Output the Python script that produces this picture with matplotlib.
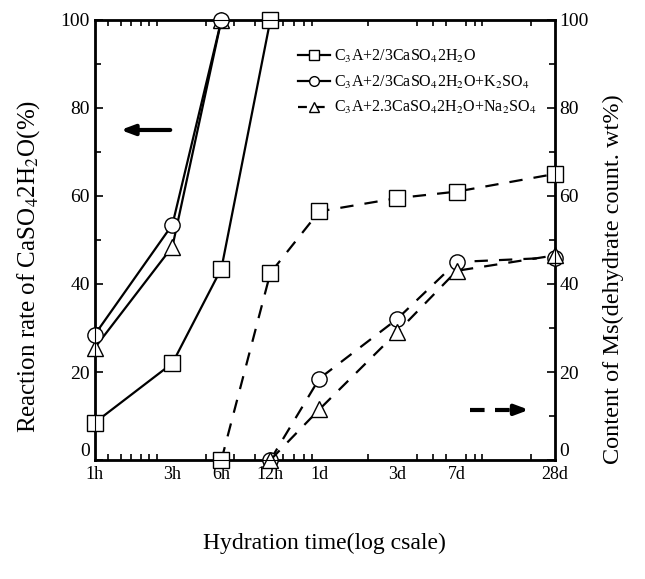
import numpy as np
import matplotlib.pyplot as plt
from matplotlib.ticker import LogLocator, MultipleLocator, NullFormatter

plt.rcParams['font.family'] = ['Liberation Serif', 'DejaVu Serif']
plt.rcParams['mathtext.fontset'] = 'stix'

# Reaction rate of CaSO4.2H2O (left axis, solid lines), time in hours
t_rate = [1, 3, 6, 12]
rate_plain = [8.5, 22, 43.5, 100]
t_rate_k = [1, 3, 6]
rate_k = [28.5, 53.5, 100]
rate_na = [25.5, 48.5, 100]

# Content of Ms (right axis, dashed lines), time in hours
t_ms_plain = [6, 12, 24, 72, 168, 672]
ms_plain = [0, 42.5, 56.5, 59.5, 61, 65]
t_ms = [12, 24, 72, 168, 672]
ms_k = [0, 18.5, 32, 45, 46]
ms_na = [0, 11.5, 29, 43, 46.5]

tick_hours = [1, 3, 6, 12, 24, 72, 168, 672]
tick_labels = ['1h', '3h', '6h', '12h', '1d', '3d', '7d', '28d']

lab_plain = r'C$_3$A+2/3CaSO$_4$2H$_2$O'
lab_k = r'C$_3$A+2/3CaSO$_4$2H$_2$O+K$_2$SO$_4$'
lab_na = r'C$_3$A+2.3CaSO$_4$2H$_2$O+Na$_2$SO$_4$'


def days(h):
    return np.array(h) / 24.0


fig = plt.figure(figsize=(6.45, 5.79), dpi=100)
ax = fig.add_axes([0.147, 0.2055, 0.713, 0.76])
ax2 = ax.twinx()

mk = dict(markersize=11, markerfacecolor='white', markeredgecolor='black',
          markeredgewidth=1.0, color='black', clip_on=False)

# solid lines (left axis)
ax.plot(days(t_rate_k), rate_na, '-', marker='^', lw=1.6, zorder=3, **mk)
ax.plot(days(t_rate_k), rate_k, '-', marker='o', lw=1.6, zorder=4, **mk)
ax.plot(days(t_rate), rate_plain, '-', marker='s', lw=1.6, zorder=3, **mk)

# dashed lines (right axis)
ax2.plot(days(t_ms_plain), ms_plain, '--', marker='s', lw=1.6, dashes=(6, 5), **mk)
ax2.plot(days(t_ms), ms_k, '--', marker='o', lw=1.6, dashes=(6, 5), **mk)
ax2.plot(days(t_ms), ms_na, '--', marker='^', lw=1.6, dashes=(6, 5), **mk)

for a in (ax, ax2):
    a.set_xscale('log')
    a.set_xlim(1 / 24, 28)
    a.set_ylim(0, 100)
    a.set_yticks([0, 20, 40, 60, 80, 100])
    a.yaxis.set_minor_locator(MultipleLocator(10))
    a.tick_params(axis='both', which='both', direction='in', width=1.2,
                  labelsize=14)
    a.tick_params(axis='both', which='major', length=6)
    a.tick_params(axis='both', which='minor', length=4)
    # the "0" labels sit a little higher, as in the original
    a.get_yticklabels()[0].set_va('bottom')

ax.tick_params(axis='x', which='both', top=True)
ax.xaxis.set_major_locator(plt.FixedLocator(days(tick_hours)))
ax.xaxis.set_major_formatter(plt.FixedFormatter(tick_labels))
ax.xaxis.set_minor_locator(LogLocator(base=10, subs=np.arange(1, 10)))
ax.xaxis.set_minor_formatter(NullFormatter())
ax.tick_params(axis='x', which='major', length=0, labelsize=13, pad=4)
for s in ax.spines.values():
    s.set_linewidth(2)

ax.set_ylabel(r'Reaction rate of CaSO$_4$2H$_2$O(%)', fontsize=18)
ax.yaxis.set_label_coords(-0.115, 0.44)
ax2.set_ylabel('Content of Ms(dehydrate count. wt%)', fontsize=17.5)
ax2.yaxis.set_label_coords(1.105, 0.41)
ax.set_xlabel('Hydration time(log csale)', fontsize=17, labelpad=36)

# direction arrows
ax.annotate('', xy=(0.05, 0.75), xytext=(0.17, 0.75), xycoords='axes fraction',
            arrowprops=dict(arrowstyle='-|>,head_length=0.8,head_width=0.3',
                            lw=3, color='black'))
ax.plot([0.815, 0.91], [0.114, 0.114], transform=ax.transAxes, color='black',
        lw=3, dashes=(3.5, 2.5), clip_on=False)
ax.annotate('', xy=(0.95, 0.114), xytext=(0.9, 0.114), xycoords='axes fraction',
            arrowprops=dict(arrowstyle='-|>,head_length=0.8,head_width=0.3',
                            lw=3, color='black'))

handles = [
    plt.Line2D([], [], ls='-', marker='s', markersize=7, lw=1.6, color='black',
               markerfacecolor='white'),
    plt.Line2D([], [], ls='-', marker='o', markersize=7, lw=1.6, color='black',
               markerfacecolor='white'),
    plt.Line2D([], [], ls='--', marker='^', markersize=7, lw=1.6, color='black',
               markerfacecolor='white', dashes=(4, 4)),
]
ax2.legend(handles, [lab_plain, lab_k, lab_na], loc='upper left',
           bbox_to_anchor=(0.41, 0.97), frameon=False, fontsize=11.5,
           handlelength=2.0, handletextpad=0.3, labelspacing=0.55)

fig.savefig('out.png', dpi=100)
